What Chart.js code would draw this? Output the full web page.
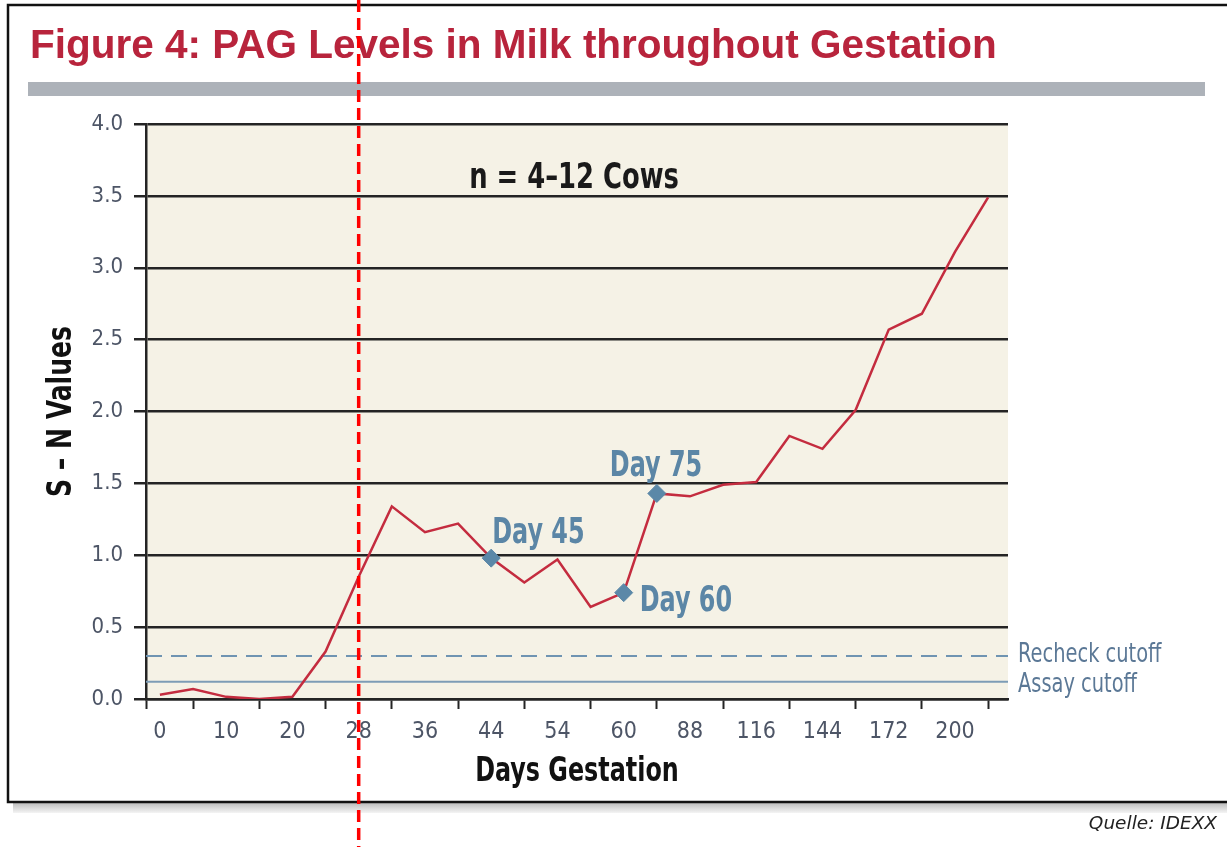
<!DOCTYPE html>
<html><head><meta charset="utf-8">
<script src="https://cdn.jsdelivr.net/npm/chart.js@4.4.0/dist/chart.umd.min.js"></script>
<style>html,body{margin:0;padding:0;background:#fff;overflow:hidden;} canvas{display:block;}</style>
</head><body>
<canvas id="c" width="1227" height="847"></canvas>
<script>
// ---- data ----
const dayLabels = ['0','10','20','28','36','44','54','60','88','116','144','172','200'];
const snValues = [0.03,0.07,0.015,0.0,0.015,0.33,0.85,1.34,1.16,1.22,0.98,0.81,0.97,0.64,0.74,1.43,1.41,1.49,1.51,1.83,1.74,2.01,2.57,2.68,3.11,3.49];
const markerIndex = [10,14,15];
const markerText = ['Day 45','Day 60','Day 75'];
const recheckCutoff = 0.3;
const assayCutoff = 0.12;
const cutoffText = ['Recheck cutoff','Assay cutoff'];
const titleText = 'Figure 4: PAG Levels in Milk throughout Gestation';
const noteText = 'n = 4\u201312 Cows';
const yTitle = 'S \u2013 N Values';
const xTitle = 'Days Gestation';
const sourceText = 'Quelle: IDEXX';
const markedDayIndex = 6; // "28"

// ---- style ----
const NARROW = "'Liberation Sans Narrow','DejaVu Sans Condensed','Arial Narrow',sans-serif";
const X_MIN = -0.42, X_MAX = 25.6;
const DARK = '#242424';

const seriesPoints = snValues.map((v, i) => ({x: i, y: v}));

// draw text horizontally compressed (to imitate a condensed face)
function condText(ctx, text, x, y, font, color, align, sx, baseline, rot) {
  ctx.save();
  ctx.translate(x, y);
  if (rot) ctx.rotate(rot);
  ctx.scale(sx, 1);
  ctx.font = font; ctx.fillStyle = color;
  ctx.textAlign = align; ctx.textBaseline = baseline || 'alphabetic';
  ctx.fillText(text, 0, 0);
  ctx.restore();
}

const decor = {
  id: 'decor',
  beforeDraw(chart) {
    const {ctx, chartArea: a} = chart;
    ctx.save();
    ctx.fillStyle = '#fff';
    ctx.fillRect(0, 0, chart.width, chart.height);
    const g = ctx.createLinearGradient(0, 803, 0, 813);
    g.addColorStop(0, '#bdbdbd'); g.addColorStop(1, '#f4f4f4');
    ctx.fillStyle = g;
    ctx.fillRect(13, 803, chart.width - 13, 10);
    ctx.strokeStyle = '#111'; ctx.lineWidth = 2.5;
    ctx.beginPath();
    ctx.moveTo(chart.width + 5, 5); ctx.lineTo(8, 5); ctx.lineTo(8, 802); ctx.lineTo(chart.width + 5, 802);
    ctx.stroke();
    ctx.fillStyle = '#b8243c';
    ctx.font = "bold 40.5px 'Liberation Sans', Arial, sans-serif";
    ctx.textBaseline = 'alphabetic'; ctx.textAlign = 'left';
    ctx.fillText(titleText, 30, 58);
    ctx.fillStyle = '#adb2b9';
    ctx.fillRect(28, 82, 1177, 14);
    ctx.fillStyle = '#f5f2e6';
    ctx.fillRect(a.left, a.top, a.right - a.left, a.bottom - a.top);
    ctx.restore();
  },
  afterDraw(chart) {
    const {ctx, scales: {x, y}, chartArea: a} = chart;
    // axis titles
    condText(ctx, yTitle, 62, (a.top + a.bottom) / 2, 'bold 34px ' + NARROW, '#111', 'center', 0.82, 'middle', -Math.PI / 2);
    condText(ctx, xTitle, (a.left + a.right) / 2, 772, 'bold 34px ' + NARROW, '#111', 'center', 0.78, 'middle');
    // marker labels
    const offs = [[1, -15], [16, 18], [-47, -17]];
    markerIndex.forEach((idx, k) => {
      const px = x.getPixelForValue(idx), py = y.getPixelForValue(snValues[idx]);
      condText(ctx, markerText[k], px + offs[k][0], py + offs[k][1], 'bold 35px ' + NARROW, '#5b86a6', 'left', 0.76);
    });
    // note
    condText(ctx, noteText, x.getPixelForValue(12.5), y.getPixelForValue(3.64) + 12, 'bold 35px ' + NARROW, '#1a1a1a', 'center', 0.82);
    // cutoff labels
    condText(ctx, cutoffText[0], a.right + 10, y.getPixelForValue(recheckCutoff) + 6, '27px ' + NARROW, '#5b7896', 'left', 0.8);
    condText(ctx, cutoffText[1], a.right + 10, y.getPixelForValue(assayCutoff) + 10, '27px ' + NARROW, '#5b7896', 'left', 0.8);
    // source
    ctx.save();
    ctx.fillStyle = '#222';
    ctx.font = "italic 18.5px 'DejaVu Sans', Verdana, sans-serif";
    ctx.textAlign = 'right'; ctx.textBaseline = 'alphabetic';
    ctx.fillText(sourceText, 1217, 829);
    // red dashed marker line
    const rx = x.getPixelForValue(markedDayIndex);
    ctx.strokeStyle = '#ff0000'; ctx.lineWidth = 3.5;
    ctx.setLineDash([12, 6]);
    ctx.beginPath(); ctx.moveTo(rx, 0); ctx.lineTo(rx, chart.height); ctx.stroke();
    ctx.restore();
  }
};

new Chart(document.getElementById('c'), {
  type: 'line',
  data: {datasets: [
    {label: 'S-N', data: seriesPoints, borderColor: '#c42c3f', borderWidth: 2.5, tension: 0,
     pointRadius: c => markerIndex.includes(c.dataIndex) ? 9 : 0,
     pointStyle: 'rectRot', pointBackgroundColor: '#5b88a8', pointBorderColor: '#5b88a8', pointBorderWidth: 1, order: 0},
    {label: 'Recheck cutoff', data: [{x: X_MIN, y: recheckCutoff}, {x: X_MAX, y: recheckCutoff}],
     borderColor: '#6f94b2', borderDash: [16, 9], borderWidth: 2, pointRadius: 0, order: 2},
    {label: 'Assay cutoff', data: [{x: X_MIN, y: assayCutoff}, {x: X_MAX, y: assayCutoff}],
     borderColor: '#7d9cb6', borderWidth: 2, pointRadius: 0, order: 2}
  ]},
  options: {
    responsive: false, animation: false, devicePixelRatio: 1,
    layout: {padding: {left: 40, top: 124, right: 219, bottom: 0}},
    plugins: {legend: {display: false}, tooltip: {enabled: false}},
    scales: {
      x: {
        type: 'linear', min: X_MIN, max: X_MAX,
        afterBuildTicks: s => { s.ticks = [X_MIN].concat(snValues.map((_, i) => i)).map(v => ({value: v})); },
        afterFit: s => { s.height = 148; },
        ticks: {autoSkip: false, maxRotation: 0, padding: 9, color: '#4d5566',
          font: {family: NARROW, size: 23},
          callback: v => (Number.isInteger(v) && v % 2 === 0) ? dayLabels[v / 2] : ''},
        grid: {drawOnChartArea: false, drawTicks: true, tickLength: 10, tickWidth: 2,
          tickColor: c => (c.tick && (c.tick.value === X_MIN || Math.abs(c.tick.value % 2) === 1)) ? DARK : 'rgba(0,0,0,0)'},
        border: {display: true, color: DARK, width: 2.5},
        title: {display: false}
      },
      y: {
        min: 0, max: 4,
        afterFit: s => { s.width = 106; },
        ticks: {stepSize: 0.5, padding: 11, color: '#4d5566', font: {family: NARROW, size: 22},
          callback: v => v.toFixed(1)},
        grid: {color: DARK, lineWidth: 2.5, drawTicks: true, tickLength: 12, tickColor: DARK},
        border: {display: true, color: DARK, width: 2.5},
        title: {display: false}
      }
    }
  },
  plugins: [decor]
});
</script>
</body></html>
